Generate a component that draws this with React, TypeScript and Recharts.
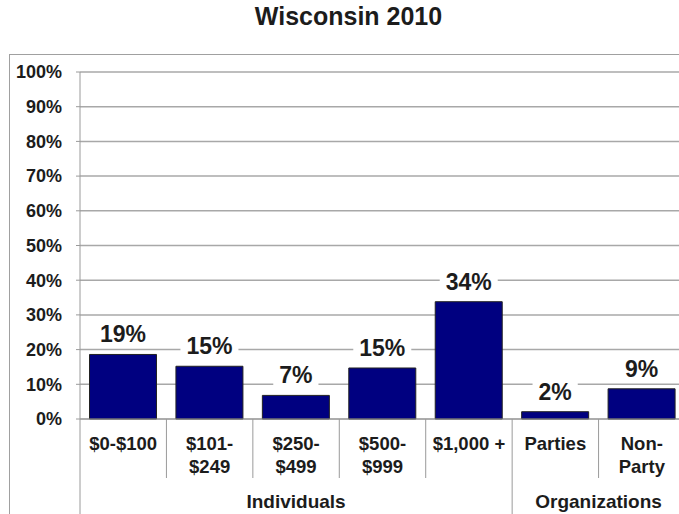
import { BarChart, Bar, XAxis, YAxis, CartesianGrid, LabelList } from "recharts";

const categories = [
  "$0-$100",
  "$101-\n$249",
  "$250-\n$499",
  "$500-\n$999",
  "$1,000 +",
  "Parties",
  "Non-\nParty",
];
const groups = [
  "Individuals",
  "Individuals",
  "Individuals",
  "Individuals",
  "Individuals",
  "Organizations",
  "Organizations",
];
const shares = [18.6, 15.2, 6.8, 14.7, 33.8, 2.1, 8.7];
const yTicks = [0, 10, 20, 30, 40, 50, 60, 70, 80, 90, 100];

const data = categories.map((c, i) => ({ name: c, share: shares[i], group: groups[i] }));

const CHART_W = 700;
const CHART_H = 514;
const Y_W = 80;
const RIGHT = 15;
const X_H = 95;
const BAND = (CHART_W - Y_W - RIGHT) / categories.length;
const FONT = "'Liberation Sans', Arial, sans-serif";
const INK = "#1c1c1c";
const RULE = "#9a9a9a";

function CategoryTick(props: any) {
  const { x, y, payload, index } = props;
  const lines = String(payload.value).split("\n");
  const left = x - BAND / 2;
  const g = groups[index];
  const startsGroup = index === 0 || groups[index - 1] !== g;
  let groupLabel = null;
  if (startsGroup) {
    const count = groups.filter((v) => v === g).length;
    groupLabel = (
      <text
        x={x + ((count - 1) / 2) * BAND}
        y={y + 89}
        textAnchor="middle"
        fontFamily={FONT}
        fontWeight="bold"
        fontSize={19}
        fill={INK}
      >
        {g}
      </text>
    );
  }
  return (
    <g>
      <line x1={left} x2={left} y1={y} y2={startsGroup ? y + X_H : y + 59} stroke={RULE} />
      {lines.map((l, i) => (
        <text
          key={i}
          x={x}
          y={y + 31 + i * 23}
          textAnchor="middle"
          fontFamily={FONT}
          fontWeight="bold"
          fontSize={18.5}
          fill={INK}
        >
          {l}
        </text>
      ))}
      {groupLabel}
    </g>
  );
}

function ValueLabel(props: any) {
  const { x, y, width, value } = props;
  const txt = `${Math.round(value)}%`;
  const cx = x + width / 2;
  const tw = (txt.length - 1) * 12.8 + 20.4;
  const base = y - 12;
  return (
    <g>
      <rect x={cx - tw / 2 - 6} y={base - 22} width={tw + 12} height={26} fill="#fff" />
      <text
        x={cx}
        y={base}
        textAnchor="middle"
        fontFamily={FONT}
        fontWeight="bold"
        fontSize={23}
        fill={INK}
      >
        {txt}
      </text>
    </g>
  );
}

export default function App() {
  return (
    <div
      style={{
        position: "absolute",
        left: 0,
        top: 0,
        width: 679,
        height: 514,
        overflow: "hidden",
        background: "#fff",
      }}
    >
      <div
        style={{
          position: "absolute",
          left: 9,
          top: 54,
          width: 720,
          height: 520,
          border: "1px solid #a0a0a0",
        }}
      />
      <div
        style={{
          position: "absolute",
          left: 9,
          top: 2,
          width: 679,
          textAlign: "center",
          fontFamily: FONT,
          fontWeight: "bold",
          fontSize: 25,
          color: INK,
        }}
      >
        Wisconsin 2010
      </div>
      <div style={{ position: "absolute", left: 0, top: 0 }}>
        <BarChart
          width={CHART_W}
          height={CHART_H}
          data={data}
          margin={{ top: 72, right: RIGHT, left: 0, bottom: 0 }}
          barCategoryGap="11%"
        >
          <CartesianGrid vertical={false} stroke="#a8a8a8" strokeWidth={1.5} />
          <YAxis
            width={Y_W}
            domain={[0, 100]}
            ticks={yTicks}
            interval={0}
            tickFormatter={(v) => `${v}%`}
            tickSize={4}
            tickMargin={14}
            stroke={RULE}
            tick={{ fill: INK, fontFamily: FONT, fontWeight: "bold", fontSize: 18 }}
          />
          <XAxis
            dataKey="name"
            height={X_H}
            interval={0}
            tickSize={0}
            tickMargin={0}
            stroke={RULE}
            tick={<CategoryTick />}
          />
          <Bar dataKey="share" fill="#000080" stroke="#222" strokeWidth={1} isAnimationActive={false}>
            <LabelList dataKey="share" content={<ValueLabel />} />
          </Bar>
        </BarChart>
      </div>
    </div>
  );
}
